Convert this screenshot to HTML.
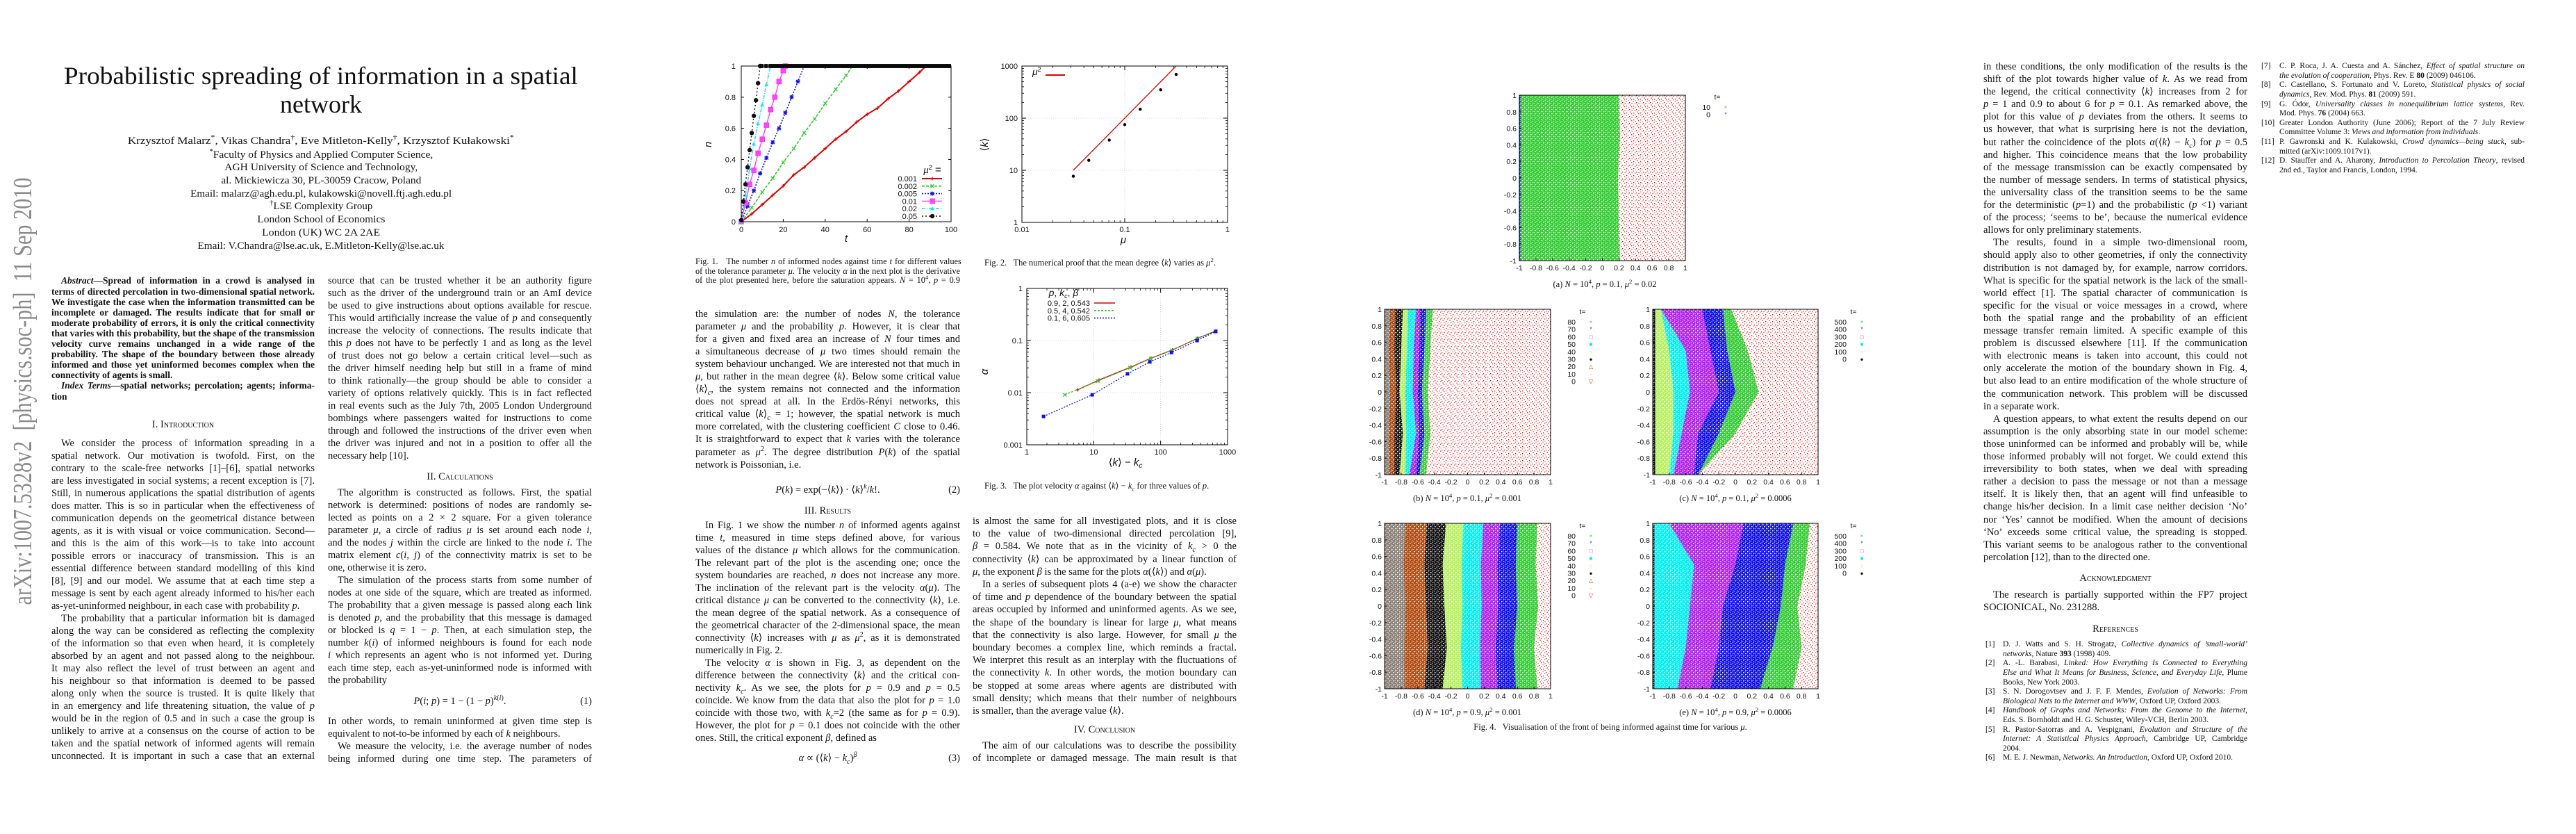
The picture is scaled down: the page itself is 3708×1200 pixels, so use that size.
<!DOCTYPE html>
<html><head><meta charset="utf-8"><title>Probabilistic spreading of information in a spatial network</title>
<style>
html,body{margin:0;padding:0;background:#fff;}
#page{position:relative;width:3708px;height:1200px;overflow:hidden;background:#fff;font-family:"Liberation Serif",serif;color:#111;}
.ln{position:absolute;white-space:nowrap;overflow:visible;}
.ln sup{font-size:70%;vertical-align:super;line-height:0;}
.ln sub{font-size:70%;vertical-align:sub;line-height:0;}
.sc{font-variant:small-caps;}
#charts{position:absolute;left:0;top:0;}
svg text{font-family:"Liberation Sans",sans-serif;}
</style></head>
<body>
<div id="page">
<svg id="charts" width="3708" height="1200" viewBox="0 0 3708 1200">
<defs>
<pattern id="pat-red" width="10" height="10" patternUnits="userSpaceOnUse">
<rect x="1" y="2" width="1.3" height="1.3" fill="#f00"/><rect x="5" y="7" width="1.3" height="1.3" fill="#f00"/>
<rect x="8" y="3" width="1.3" height="1.3" fill="#f22"/><rect x="3" y="8.5" width="1.3" height="1.3" fill="#f33"/>
<rect x="6.5" y="0.5" width="1.3" height="1.3" fill="#f00"/><rect x="0.5" y="5.5" width="1.3" height="1.3" fill="#f44"/>
<rect x="3.5" y="4" width="1.2" height="1.2" fill="#f55"/><rect x="8.5" y="8" width="1.2" height="1.2" fill="#f00"/>
</pattern>
</defs>
</svg>
</div>
<script>
// ---------------- chart data ----------------
const fig1Labels = ['0.001','0.002','0.005','0.01','0.02','0.05'];
const fig1T_a = [0,5,10,15,20,25,30,35,40,45,50,55,60,65,70,75,80,85,88,100];
const fig1N_a = [0,0.05,0.11,0.17,0.23,0.3,0.35,0.41,0.47,0.53,0.58,0.64,0.69,0.73,0.79,0.84,0.9,0.96,1,1];
const fig1T_b = [0,5,10,15,20,25,30,35,40,45,50,53,100];
const fig1N_b = [0,0.09,0.19,0.28,0.38,0.47,0.57,0.66,0.76,0.85,0.94,1,1];
const fig1T_c = [0,3,6,9,12,15,18,21,24,27,30,100];
const fig1N_c = [0,0.1,0.2,0.31,0.41,0.51,0.6,0.7,0.8,0.9,1,1];
const fig1T_d = [0,2,4,6,8,10,12,14,16,18,20,21,100];
const fig1N_d = [0,0.12,0.24,0.33,0.44,0.53,0.62,0.72,0.8,0.9,0.97,1,1];
const fig1T_e = [0,2,4,6,8,10,12,14,100];
const fig1N_e = [0,0.17,0.34,0.5,0.63,0.75,0.88,1,1];
const fig1T_f = [0,1,2,3,4,5,6,7,8,9,100];
const fig1N_f = [0.01,0.13,0.24,0.35,0.46,0.57,0.68,0.78,0.89,1,1];
const fig1XTicks = [0,20,40,60,80,100];
const fig1YTicks = [0,0.2,0.4,0.6,0.8,1];

const fig2Mu = [0.0316,0.0447,0.0707,0.1,0.1414,0.2236,0.3162];
const fig2K = [7.7,15.5,38,75,148,350,690];
const fig2FitMu = [0.0316,0.3162];
const fig2FitK = [10,1000];
const fig2XTicks = [0.01,0.1,1];
const fig2YTicks = [1,10,100,1000];

const fig3Labels = ['0.9, 2, 0.543','0.5, 4, 0.542','0.1, 6, 0.605'];
const fig3X_09 = [5.7,12,36,72,150,355,665];
const fig3Y_09 = [0.0113,0.0175,0.031,0.046,0.066,0.11,0.153];
const fig3X_05 = [3.7,11.5,35,71,148,355,665];
const fig3Y_05 = [0.0091,0.0167,0.030,0.045,0.065,0.11,0.153];
const fig3X_01 = [1.78,9.5,32,69,145,350,665];
const fig3Y_01 = [0.0035,0.0091,0.023,0.039,0.059,0.1,0.149];
const fig3XTicks = [1,10,100,1000];
const fig3YTicks = [0.001,0.01,0.1,1];

// Fig.4 front positions (x in [-1,1]) sampled at y = 1, 0.5, 0, -0.5, -1
const fig4Levels = [1,0.5,0,-0.5,-1];
const fig4aColors = ['green','blue'];
const fig4aFronts = [[0.2,0.21,0.19,0.2,0.21],[-0.985,-0.985,-0.985,-0.985,-0.985]];
const fig4bColors = ['green','blue','magenta','cyan','yellow','black','brown','gray'];
const fig4bFronts = [[-0.42,-0.45,-0.48,-0.45,-0.5],[-0.5,-0.52,-0.55,-0.52,-0.58],[-0.57,-0.58,-0.6,-0.58,-0.62],[-0.62,-0.65,-0.66,-0.62,-0.7],[-0.72,-0.73,-0.75,-0.74,-0.75],[-0.78,-0.8,-0.82,-0.78,-0.82],[-0.87,-0.88,-0.86,-0.88,-0.88],[-0.93,-0.95,-0.93,-0.95,-0.94]];
const fig4cColors = ['green','blue','magenta','cyan','yellow','black'];
const fig4cFronts = [[-0.05,0.15,0.28,0.0,-0.45],[-0.15,-0.1,0.0,-0.2,-0.45],[-0.4,-0.3,-0.2,-0.45,-0.5],[-0.9,-0.6,-0.55,-0.65,-0.75],[-0.9,-0.8,-0.75,-0.75,-0.8],[-0.97,-0.97,-0.97,-0.97,-0.97]];
const fig4dColors = ['green','blue','magenta','cyan','yellow','black','brown','gray'];
const fig4dFronts = [[0.84,0.82,0.85,0.8,0.84],[0.6,0.58,0.6,0.56,0.58],[0.39,0.36,0.37,0.34,0.36],[0.19,0.16,0.17,0.15,0.16],[-0.05,-0.07,-0.06,-0.08,-0.06],[-0.26,-0.3,-0.28,-0.25,-0.3],[-0.49,-0.52,-0.5,-0.48,-0.52],[-0.75,-0.77,-0.75,-0.76,-0.76]];
const fig4eColors = ['green','blue','magenta','cyan','black'];
const fig4eFronts = [[0.9,0.85,0.75,0.8,0.7],[0.7,0.6,0.55,0.45,0.3],[0.1,0.0,-0.15,-0.2,-0.3],[-0.8,-0.5,-0.55,-0.6,-0.7],[-0.98,-0.98,-0.98,-0.98,-0.98]];
const fig4TicksLabels = ['-1','-0.8','-0.6','-0.4','-0.2','0','0.2','0.4','0.6','0.8','1'];
const fig4LegendShort = ['10','0'];
const fig4LegendB = ['80','70','60','50','40','30','20','10','0'];
const fig4LegendC = ['500','400','300','200','100','0'];

// ---------------- helpers ----------------
const NS='http://www.w3.org/2000/svg';
const svg=document.getElementById('charts');
const page=document.getElementById('page');
function mk(tag,attrs,parent){const e=document.createElementNS(NS,tag);for(const k in attrs)e.setAttribute(k,attrs[k]);(parent||svg).appendChild(e);return e;}
function txt(x,y,s,size,anchor,parent,extra){const t=mk('text',{x:x,y:y,'font-size':size,'text-anchor':anchor||'middle',fill:'#111'},parent);if(extra)for(const k in extra)t.setAttribute(k,extra[k]);t.innerHTML=s;return t;}

const colorMap={green:'#33cc33',blue:'#1010ee',magenta:'#b020f0',cyan:'#00f0f0',yellow:'#b8f060',black:'#111111',brown:'#b04a10',gray:'#8a8078'};
const defs=svg.querySelector('defs');
for(const c in colorMap){
  const p=mk('pattern',{id:'pat-'+c,width:6,height:6,patternUnits:'userSpaceOnUse'},defs);
  mk('rect',{x:0,y:0,width:6,height:6,fill:colorMap[c]},p);
  mk('rect',{x:1,y:1,width:1.5,height:1.5,fill:'#fff'},p);
  mk('rect',{x:4,y:3.6,width:1.3,height:1.3,fill:'#fff'},p);
  mk('rect',{x:0.2,y:4.3,width:1.1,height:1.1,fill:'#fff'},p);
  mk('rect',{x:3.6,y:0.2,width:1.1,height:1.1,fill:'#fff'},p);
}

// ---------------- text ----------------
function makeLine(x,w,y,lh,fs,s,style){
  let indent=0,last=false,center=false;
  if(s[0]==='^'){indent=14;s=s.slice(1);}
  if(s[0]==='#'){center=true;s=s.slice(1);}
  if(s.endsWith('$')){last=true;s=s.slice(0,-1);}
  const d=document.createElement('div');
  d.className='ln';
  
  
  d.style.left=(x+indent)+'px';d.style.top=(y-lh/2)+'px';d.style.width=(w-indent)+'px';
  d.style.height=lh+'px';d.style.lineHeight=lh+'px';d.style.fontSize=fs+'px';
  if(style)Object.assign(d.style,style);
  if(center)d.style.textAlign='center';
  const sp=document.createElement('span');sp.innerHTML=s;d.appendChild(sp);page.appendChild(d);
  const avail=w-indent;const sw=sp.getBoundingClientRect().width;
  if(sw>avail){sp.style.display='inline-block';sp.style.transform='scaleX('+(avail/sw)+')';sp.style.transformOrigin='0 50%';d.style.textAlign='left';}
  else if(!last&&!center){const n=(sp.textContent.match(/ /g)||[]).length;if(n)sp.style.wordSpacing=((avail-sw)/n)+'px';}
  return d;
}
function block(x,w,y0,lh,fs,lines,style){lines.forEach((s,i)=>{if(s!==null)makeLine(x,w,y0+i*lh,lh,fs,s,style);});}
function eq(x,w,y,fs,html,num){makeLine(x,w,y,18,fs,'#'+html);const d=makeLine(x,w,y,18,fs,num+'$');d.style.textAlign='right';}
function centerLine(cx,y,fs,html,target,style){
  const d=document.createElement('div');d.className='ln';
  
  
  d.style.left=(cx-700)+'px';d.style.width='1400px';d.style.top=(y-fs*0.7)+'px';d.style.lineHeight=(fs*1.4)+'px';d.style.fontSize=fs+'px';d.style.textAlign='center';
  if(style)Object.assign(d.style,style);
  const sp=document.createElement('span');sp.innerHTML=html;sp.style.display='inline-block';d.appendChild(sp);page.appendChild(d);
  if(target){const sw=sp.getBoundingClientRect().width;sp.style.transform='scaleX('+(target/sw)+')';}
  return d;
}

// sidebar
(function(){
  const d=document.createElement('div');
  
  
  d.style.cssText='position:absolute;left:33px;top:563px;white-space:nowrap;font-size:38px;color:#8a8a8a;font-family:"Liberation Serif",serif;';
  d.innerHTML='arXiv:1007.5328v2&nbsp; [physics.soc-ph]&nbsp; 11 Sep 2010';
  page.appendChild(d);
  const w=d.getBoundingClientRect().width;
  d.style.transform='translate(-50%,-50%) rotate(-90deg) scaleX('+(615/w)+')';
})();

// title + authors
centerLine(462,109,36,'Probabilistic spreading of information in a spatial',740);
centerLine(462,150,36,'network');
const authorLines=[[203,'Krzysztof Malarz<sup>*</sup>, Vikas Chandra<sup>†</sup>, Eve Mitleton-Kelly<sup>†</sup>, Krzysztof Kułakowski<sup>*</sup>',556],
[223,'<sup>*</sup>Faculty of Physics and Applied Computer Science,',322],[241,'AGH University of Science and Technology,',278],
[260,'al. Mickiewicza 30, PL-30059 Cracow, Poland',288],[279,'Email: malarz@agh.edu.pl, kulakowski@novell.ftj.agh.edu.pl',376],
[297,'<sup>†</sup>LSE Complexity Group',148],[316,'London School of Economics',184],[335,'London (UK) WC 2A 2AE',170],
[354,'Email: V.Chandra@lse.ac.uk, E.Mitleton-Kelly@lse.ac.uk',355]];
authorLines.forEach(a=>centerLine(462,a[0],15,a[1],a[2]));

// page 1 column 1
block(74,379,404,15.1,13.5,[
'^<i>Abstract</i>—Spread of information in a crowd is analysed in',
'terms of directed percolation in two-dimensional spatial network.',
'We investigate the case when the information transmitted can be',
'incomplete or damaged. The results indicate that for small or',
'moderate probability of errors, it is only the critical connectivity',
'that varies with this probability, but the shape of the transmission',
'velocity curve remains unchanged in a wide range of the',
'probability. The shape of the boundary between those already',
'informed and those yet uninformed becomes complex when the',
'connectivity of agents is small.$',
'^<i>Index Terms</i>—spatial networks; percolation; agents; informa-',
'tion$'],{fontWeight:'bold'});
makeLine(74,379,611,18,14.5,'#I. <span class="sc">Introduction</span>');
block(74,379,638,18,14.5,[
'^We consider the process of information spreading in a',
'spatial network. Our motivation is twofold. First, on the',
'contrary to the scale-free networks [1]–[6], spatial networks',
'are less investigated in social systems; a recent exception is [7].',
'Still, in numerous applications the spatial distribution of agents',
'does matter. This is so in particular when the effectiveness of',
'communication depends on the geometrical distance between',
'agents, as it is with visual or voice communication. Second—',
'and this is the aim of this work—is to take into account',
'possible errors or inaccuracy of transmission. This is an',
'essential difference between standard modelling of this kind',
'[8], [9] and our model. We assume that at each time step a',
'message is sent by each agent already informed to his/her each',
'as-yet-uninformed neighbour, in each case with probability <i>p</i>.$',
'^The probability that a particular information bit is damaged',
'along the way can be considered as reflecting the complexity',
'of the information so that even when heard, it is completely',
'absorbed by an agent and not passed along to the neighbour.',
'It may also reflect the level of trust between an agent and',
'his neighbour so that information is deemed to be passed',
'along only when the source is trusted. It is quite likely that',
'in an emergency and life threatening situation, the value of <i>p</i>',
'would be in the region of 0.5 and in such a case the group is',
'unlikely to arrive at a consensus on the course of action to be',
'taken and the spatial network of informed agents will remain',
'unconnected. It is important in such a case that an external']);

// page 1 column 2
block(472,380,404,18,14.5,[
'source that can be trusted whether it be an authority figure',
'such as the driver of the underground train or an AmI device',
'be used to give instructions about options available for rescue.',
'This would artificially increase the value of <i>p</i> and consequently',
'increase the velocity of connections. The results indicate that',
'this <i>p</i> does not have to be perfectly 1 and as long as the level',
'of trust does not go below a certain critical level—such as',
'the driver himself needing help but still in a frame of mind',
'to think rationally—the group should be able to consider a',
'variety of options relatively quickly. This is in fact reflected',
'in real events such as the July 7th, 2005 London Underground',
'bombings where passengers waited for instructions to come',
'through and followed the instructions of the driver even when',
'the driver was injured and not in a position to offer all the',
'necessary help [10].$']);
makeLine(472,380,686,18,14.5,'#II. <span class="sc">Calculations</span>');
block(472,380,709,18,14.5,[
'^The algorithm is constructed as follows. First, the spatial',
'network is determined: positions of nodes are randomly se-',
'lected as points on a 2 × 2 square. For a given tolerance',
'parameter <i>μ</i>, a circle of radius <i>μ</i> is set around each node <i>i</i>,',
'and the nodes <i>j</i> within the circle are linked to the node <i>i</i>. The',
'matrix element <i>c</i>(<i>i, j</i>) of the connectivity matrix is set to be',
'one, otherwise it is zero.$',
'^The simulation of the process starts from some number of',
'nodes at one side of the square, which are treated as informed.',
'The probability that a given message is passed along each link',
'is denoted <i>p</i>, and the probability that this message is damaged',
'or blocked is <i>q</i> = 1 − <i>p</i>. Then, at each simulation step, the',
'number <i>k</i>(<i>i</i>) of informed neighbours is found for each node',
'<i>i</i> which represents an agent who is not informed yet. During',
'each time step, each as-yet-uninformed node is informed with',
'the probability$']);
eq(472,380,1009,14.5,'<i>P</i>(<i>i</i>; <i>p</i>) = 1 − (1 − <i>p</i>)<sup><i>k</i>(<i>i</i>)</sup>.','(1)');
block(472,380,1038,18,14.5,[
'In other words, to remain uninformed at given time step is',
'equivalent to not-to-be informed by each of <i>k</i> neighbours.$',
'^We measure the velocity, i.e. the average number of nodes',
'being informed during one time step. The parameters of']);

// page 2 column 3
block(1001,381,377,13.6,12.3,[
'Fig. 1.&nbsp;&nbsp; The number <i>n</i> of informed nodes against time <i>t</i> for different values',
'of the tolerance parameter <i>μ</i>. The velocity <i>α</i> in the next plot is the derivative',
'of the plot presented here, before the saturation appears. <i>N</i> = 10<sup>4</sup>, <i>p</i> = 0.9']);
block(1001,381,452,18.05,14.5,[
'the simulation are: the number of nodes <i>N</i>, the tolerance',
'parameter <i>μ</i> and the probability <i>p</i>. However, it is clear that',
'for a given and fixed area an increase of <i>N</i> four times and',
'a simultaneous decrease of <i>μ</i> two times should remain the',
'system behaviour unchanged. We are interested not that much in',
'<i>μ</i>, but rather in the mean degree ⟨<i>k</i>⟩. Below some critical value',
'⟨<i>k</i>⟩<sub><i>c</i></sub>, the system remains not connected and the information',
'does not spread at all. In the Erdös-Rényi networks, this',
'critical value ⟨<i>k</i>⟩<sub><i>c</i></sub> = 1; however, the spatial network is much',
'more correlated, with the clustering coefficient <i>C</i> close to 0.46.',
'It is straightforward to expect that <i>k</i> varies with the tolerance',
'parameter as <i>μ</i><sup>2</sup>. The degree distribution <i>P</i>(<i>k</i>) of the spatial',
'network is Poissonian, i.e.$']);
eq(1001,381,705,14.5,'<i>P</i>(<i>k</i>) = exp(−⟨<i>k</i>⟩) · ⟨<i>k</i>⟩<sup><i>k</i></sup>/<i>k</i>!.','(2)');
makeLine(1001,381,735,18,14.5,'#III. <span class="sc">Results</span>');
block(1001,381,756,18,14.5,[
'^In Fig. 1 we show the number <i>n</i> of informed agents against',
'time <i>t</i>, measured in time steps defined above, for various',
'values of the distance <i>μ</i> which allows for the communication.',
'The relevant part of the plot is the ascending one; once the',
'system boundaries are reached, <i>n</i> does not increase any more.',
'The inclination of the relevant part is the velocity <i>α</i>(<i>μ</i>). The',
'critical distance <i>μ</i> can be converted to the connectivity ⟨<i>k</i>⟩, i.e.',
'the mean degree of the spatial network. As a consequence of',
'the geometrical character of the 2-dimensional space, the mean',
'connectivity ⟨<i>k</i>⟩ increases with <i>μ</i> as <i>μ</i><sup>2</sup>, as it is demonstrated',
'numerically in Fig. 2.$',
'^The velocity <i>α</i> is shown in Fig. 3, as dependent on the',
'difference between the connectivity ⟨<i>k</i>⟩ and the critical con-',
'nectivity <i>k<sub>c</sub></i>. As we see, the plots for <i>p</i> = 0.9 and <i>p</i> = 0.5',
'coincide. We know from the data that also the plot for <i>p</i> = 1.0',
'coincide with those two, with <i>k<sub>c</sub></i>=2 (the same as for <i>p</i> = 0.9).',
'However, the plot for <i>p</i> = 0.1 does not coincide with the other',
'ones. Still, the critical exponent <i>β</i>, defined as$']);
eq(1001,381,1091,14.5,'<i>α</i> ∝ (⟨<i>k</i>⟩ − <i>k<sub>c</sub></i>)<sup><i>β</i></sup>','(3)');

// page 2 column 4
makeLine(1417,363,378,14,12.5,'Fig. 2.&nbsp;&nbsp; The numerical proof that the mean degree ⟨<i>k</i>⟩ varies as <i>μ</i><sup>2</sup>.$');
makeLine(1417,363,699,14,12.5,'Fig. 3.&nbsp;&nbsp; The plot velocity <i>α</i> against ⟨<i>k</i>⟩ − <i>k<sub>c</sub></i> for three values of <i>p</i>.$');
block(1400,380,750,18.2,14.5,[
'is almost the same for all investigated plots, and it is close',
'to the value of two-dimensional directed percolation [9],',
'<i>β</i> = 0.584. We note that as in the vicinity of <i>k<sub>c</sub></i> &gt; 0 the',
'connectivity ⟨<i>k</i>⟩ can be approximated by a linear function of',
'<i>μ</i>, the exponent <i>β</i> is the same for the plots <i>α</i>(⟨<i>k</i>⟩) and <i>α</i>(<i>μ</i>).$',
'^In a series of subsequent plots 4 (a-e) we show the character',
'of time and <i>p</i> dependence of the boundary between the spatial',
'areas occupied by informed and uninformed agents. As we see,',
'the shape of the boundary is linear for large <i>μ</i>, what means',
'that the connectivity is also large. However, for small <i>μ</i> the',
'boundary becomes a complex line, which reminds a fractal.',
'We interpret this result as an interplay with the fluctuations of',
'the connectivity <i>k</i>. In other words, the motion boundary can',
'be stopped at some areas where agents are distributed with',
'small density; which means that their number of neighbours',
'is smaller, than the average value ⟨<i>k</i>⟩.$']);
makeLine(1400,380,1050,18,14.5,'#IV. <span class="sc">Conclusion</span>');
block(1400,380,1073,18.5,14.5,[
'^The aim of our calculations was to describe the possibility',
'of incomplete or damaged message. The main result is that']);

// page 3 captions
centerLine(2310,410,12.5,'(a) <i>N</i> = 10<sup>4</sup>, <i>p</i> = 0.1, <i>μ</i><sup>2</sup> = 0.02');
centerLine(2112,718,12.5,'(b) <i>N</i> = 10<sup>4</sup>, <i>p</i> = 0.1, <i>μ</i><sup>2</sup> = 0.001');
centerLine(2498,718,12.5,'(c) <i>N</i> = 10<sup>4</sup>, <i>p</i> = 0.1, <i>μ</i><sup>2</sup> = 0.0006');
centerLine(2112,1026,12.5,'(d) <i>N</i> = 10<sup>4</sup>, <i>p</i> = 0.9, <i>μ</i><sup>2</sup> = 0.001');
centerLine(2498,1026,12.5,'(e) <i>N</i> = 10<sup>4</sup>, <i>p</i> = 0.9, <i>μ</i><sup>2</sup> = 0.0006');
centerLine(2318,1047,12.5,'Fig. 4.&nbsp;&nbsp; Visualisation of the front of being informed against time for various <i>μ</i>.');

// page 4 column
block(2855,380,96,18.1,14.5,[
'in these conditions, the only modification of the results is the',
'shift of the plot towards higher value of <i>k</i>. As we read from',
'the legend, the critical connectivity ⟨<i>k</i>⟩ increases from 2 for',
'<i>p</i> = 1 and 0.9 to about 6 for <i>p</i> = 0.1. As remarked above, the',
'plot for this value of <i>p</i> deviates from the others. It seems to',
'us however, that what is surprising here is not the deviation,',
'but rather the coincidence of the plots <i>α</i>(⟨<i>k</i>⟩ − <i>k<sub>c</sub></i>) for <i>p</i> = 0.5',
'and higher. This coincidence means that the low probability',
'of the message transmission can be exactly compensated by',
'the number of message senders. In terms of statistical physics,',
'the universality class of the transition seems to be the same',
'for the deterministic (<i>p</i>=1) and the probabilistic (<i>p</i> &lt;1) variant',
'of the process; ‘seems to be’, because the numerical evidence',
'allows for only preliminary statements.$',
'^The results, found in a simple two-dimensional room,',
'should apply also to other geometries, if only the connectivity',
'distribution is not damaged by, for example, narrow corridors.',
'What is specific for the spatial network is the lack of the small-',
'world effect [1]. The spatial character of communication is',
'specific for the visual or voice messages in a crowd, where',
'both the spatial range and the probability of an efficient',
'message transfer remain limited. A specific example of this',
'problem is discussed elsewhere [11]. If the communication',
'with electronic means is taken into account, this could not',
'only accelerate the motion of the boundary shown in Fig. 4,',
'but also lead to an entire modification of the whole structure of',
'the communication network. This problem will be discussed',
'in a separate work.$',
'^A question appears, to what extent the results depend on our',
'assumption is the only absorbing state in our model scheme:',
'those uninformed can be informed and probably will be, while',
'those informed probably will not forget. We could extend this',
'irreversibility to both states, when we deal with spreading',
'rather a decision to pass the message or not than a message',
'itself. It is likely then, that an agent will find unfeasible to',
'change his/her decision. In a limit case neither decision ‘No’',
'nor ‘Yes’ cannot be modified. When the amount of decisions',
'‘No’ exceeds some critical value, the spreading is stopped.',
'This variant seems to be analogous rather to the conventional',
'percolation [12], than to the directed one.$']);
makeLine(2855,380,832,18,14.5,'#<span class="sc">Acknowledgment</span>');
block(2855,380,856,18.5,14.5,['^The research is partially supported within the FP7 project','SOCIONICAL, No. 231288.$']);
makeLine(2855,380,905,18,14.5,'#<span class="sc">References</span>');
function refs(nx,tx,w,y0,items){let i=0;items.forEach(r=>{makeLine(nx,30,y0+i*13.6,13.6,11.5,r[0]+'$');r.slice(1).forEach(l=>{makeLine(tx,w,y0+i*13.6,13.6,11.5,l);i++;});});}
refs(2858,2883,352,928,[
['[1]','D. J. Watts and S. H. Strogatz, <i>Collective dynamics of ’small-world’</i>','<i>networks</i>, Nature <b>393</b> (1998) 409.$'],
['[2]','A. -L. Barabasi, <i>Linked: How Everything Is Connected to Everything</i>','<i>Else and What It Means for Business, Science, and Everyday Life</i>, Plume','Books, New York 2003.$'],
['[3]','S. N. Dorogovtsev and J. F. F. Mendes, <i>Evolution of Networks: From</i>','<i>Biological Nets to the Internet and WWW</i>, Oxford UP, Oxford 2003.$'],
['[4]','<i>Handbook of Graphs and Networks: From the Genome to the Internet</i>,','Eds. S. Bornholdt and H. G. Schuster, Wiley-VCH, Berlin 2003.$'],
['[5]','R. Pastor-Satorras and A. Vespignani, <i>Evolution and Structure of the</i>','<i>Internet: A Statistical Physics Approach</i>, Cambridge UP, Cambridge','2004.$'],
['[6]','M. E. J. Newman, <i>Networks. An Introduction</i>, Oxford UP, Oxford 2010.$']]);
refs(3255,3281,353,96,[
['[7]','C. P. Roca, J. A. Cuesta and A. Sánchez, <i>Effect of spatial structure on</i>','<i>the evolution of cooperation</i>, Phys. Rev. E <b>80</b> (2009) 046106.$'],
['[8]','C. Castellano, S. Fortunato and V. Loreto, <i>Statistical physics of social</i>','<i>dynamics</i>, Rev. Mod. Phys. <b>81</b> (2009) 591.$'],
['[9]','G. Ódor, <i>Universality classes in nonequilibrium lattice systems</i>, Rev.','Mod. Phys. <b>76</b> (2004) 663.$'],
['[10]','Greater London Authority (June 2006); Report of the 7 July Review','Committee Volume 3: <i>Views and information from individuals</i>.$'],
['[11]','P. Gawronski and K. Kulakowski, <i>Crowd dynamics—being stuck</i>, sub-','mitted (arXiv:1009.1017v1).$'],
['[12]','D. Stauffer and A. Aharony, <i>Introduction to Percolation Theory</i>, revised','2nd ed., Taylor and Francis, London, 1994.$']]);

// ---------------- Figure 1 ----------------
const f1=mk('g',{});


const X1={l:1067,r:1369,t:95,b:319};
const x1=t=>X1.l+t/100*(X1.r-X1.l);
const y1=n=>X1.b-n*(X1.b-X1.t);
fig1XTicks.forEach(v=>{mk('line',{x1:x1(v),y1:X1.b,x2:x1(v),y2:X1.b-4,stroke:'#000','stroke-width':1},f1);mk('line',{x1:x1(v),y1:X1.t,x2:x1(v),y2:X1.t+4,stroke:'#000'},f1);
  const t=txt(x1(v),X1.b+15,String(v),11,'middle',f1);});
fig1YTicks.forEach(v=>{mk('line',{x1:X1.l,y1:y1(v),x2:X1.l+4,y2:y1(v),stroke:'#000'},f1);mk('line',{x1:X1.r,y1:y1(v),x2:X1.r-4,y2:y1(v),stroke:'#000'},f1);
  const t=txt(X1.l-8,y1(v)+4,String(v),11,'end',f1);});
const f1yt=txt(1024,208,'n',15,'middle',f1,{'font-family':'Liberation Serif','font-style':'italic',transform:'rotate(-90 1024 208)'});

const f1xt=txt(1218,348,'t',15,'middle',f1,{'font-family':'Liberation Serif','font-style':'italic'});

function marker(g,type,x,y,c){
  if(type==='plus'){mk('path',{d:`M${x-2.5},${y}h5M${x},${y-2.5}v5`,stroke:c,'stroke-width':1.2},g);}
  else if(type==='x'){mk('path',{d:`M${x-2.5},${y-2.5}l5,5M${x-2.5},${y+2.5}l5,-5`,stroke:c,'stroke-width':1.2},g);}
  else if(type==='star'){mk('path',{d:`M${x-2.5},${y-2.5}l5,5M${x-2.5},${y+2.5}l5,-5M${x-3},${y}h6M${x},${y-3}v6`,stroke:c,'stroke-width':1.3},g);}
  else if(type==='sq'){mk('rect',{x:x-3.3,y:y-3.3,width:6.6,height:6.6,fill:'#ff44ff',stroke:c,'stroke-width':1},g);}
  else if(type==='tri'){mk('path',{d:`M${x},${y-3.2}l3,5.4h-6z`,fill:c},g);}
  else if(type==='dot'){mk('circle',{cx:x,cy:y,r:3.2,fill:c},g);}
}
const fig1Series=[[fig1T_a,fig1N_a,'#e00000','none','plus',2],[fig1T_b,fig1N_b,'#22cc22','4,2','x',1.6],[fig1T_c,fig1N_c,'#1010ee','2,2','star',1.6],[fig1T_d,fig1N_d,'#ff30ff','none','sq',1.3],[fig1T_e,fig1N_e,'#22e0f0','5,2,1,2','tri',1.6],[fig1T_f,fig1N_f,'#111','2,3','dot',1.4]];
fig1Series.forEach((s,si)=>{
  const g=mk('g',{},f1);
  
  
  const pts=s[0].map((t,i)=>x1(t)+','+y1(s[1][i])).join(' ');
  mk('polyline',{points:pts,fill:'none',stroke:s[2],'stroke-width':s[5],'stroke-dasharray':s[3]},g);
  s[0].forEach((t,i)=>{if(i>0&&s[1][i]>=1&&s[1][i-1]>=1)return;marker(g,s[4],x1(t),y1(s[1][i]),s[2]);});
});
fig1Series.forEach(s=>{for(let i=1;i<s[0].length;i++){if(s[1][i]>=1&&s[1][i-1]>=1){const l=mk('line',{x1:x1(s[0][i-1]),y1:y1(1),x2:x1(s[0][i]),y2:y1(1),stroke:'#111','stroke-width':6,'stroke-dasharray':'5,1'},f1);}}});
mk('rect',{x:X1.l,y:X1.t,width:X1.r-X1.l,height:X1.b-X1.t,fill:'none',stroke:'#000','stroke-width':1},f1);
const leg1=mk('g',{},f1);


txt(1342,249,'<tspan font-style="italic" font-family="Liberation Serif">μ</tspan><tspan dy="-5" font-size="9">2</tspan><tspan dy="5"> =</tspan>',15,'middle',leg1,{'font-family':'Liberation Serif'});
fig1Series.forEach((s,i)=>{const y=257+i*10.8;txt(1320,y+4,fig1Labels[i],11,'end',leg1);mk('line',{x1:1327,y1:y,x2:1356,y2:y,stroke:s[2],'stroke-width':s[5],'stroke-dasharray':s[3]},leg1);marker(leg1,s[4],1342,y,s[2]);});

// ---------------- Figure 2 ----------------
const f2=mk('g',{});


const X2={l:1471,r:1767,t:95,b:320};
const x2=v=>X2.l+(Math.log10(v)+2)/2*(X2.r-X2.l);
const y2=v=>X2.b-Math.log10(v)/3*(X2.b-X2.t);
function logAxes(g,X,xf,yf,xt,yt,xlab,ylab){
  xt.forEach((v,i)=>{
    if(i>0&&i<xt.length-1)mk('line',{x1:xf(v),y1:X.t,x2:xf(v),y2:X.b,stroke:'#bbb','stroke-width':0.6,'stroke-dasharray':'1,2'},g);
    mk('line',{x1:xf(v),y1:X.b,x2:xf(v),y2:X.b-6,stroke:'#000'},g);mk('line',{x1:xf(v),y1:X.t,x2:xf(v),y2:X.t+6,stroke:'#000'},g);
    if(i<xt.length-1)for(let m=2;m<10;m++){const xx=xf(v*m);mk('line',{x1:xx,y1:X.b,x2:xx,y2:X.b-3,stroke:'#000','stroke-width':0.8},g);mk('line',{x1:xx,y1:X.t,x2:xx,y2:X.t+3,stroke:'#000','stroke-width':0.8},g);}
    const t=txt(xf(v),X.b+14,xlab[i],11,'middle',g);});
  yt.forEach((v,i)=>{
    if(i>0&&i<yt.length-1)mk('line',{x1:X.l,y1:yf(v),x2:X.r,y2:yf(v),stroke:'#bbb','stroke-width':0.6,'stroke-dasharray':'1,2'},g);
    mk('line',{x1:X.l,y1:yf(v),x2:X.l+6,y2:yf(v),stroke:'#000'},g);mk('line',{x1:X.r,y1:yf(v),x2:X.r-6,y2:yf(v),stroke:'#000'},g);
    if(i<yt.length-1)for(let m=2;m<10;m++){const yy=yf(v*m);mk('line',{x1:X.l,y1:yy,x2:X.l+3,y2:yy,stroke:'#000','stroke-width':0.8},g);mk('line',{x1:X.r,y1:yy,x2:X.r-3,y2:yy,stroke:'#000','stroke-width':0.8},g);}
    const t=txt(X.l-6,yf(v)+4,ylab[i],11,'end',g);});
  mk('rect',{x:X.l,y:X.t,width:X.r-X.l,height:X.b-X.t,fill:'none',stroke:'#000'},g);
}
logAxes(f2,X2,x2,y2,fig2XTicks,fig2YTicks,fig2XTicks.map(String),fig2YTicks.map(String));
const fit2=mk('polyline',{points:fig2FitMu.map((m,i)=>x2(m)+','+y2(fig2FitK[i])).join(' '),fill:'none',stroke:'#e00000','stroke-width':1.3},f2);

fig2Mu.forEach((m,i)=>{const c=mk('circle',{cx:x2(m),cy:y2(fig2K[i]),r:2.2,fill:'#000'},f2);});
txt(1486,108,'<tspan font-style="italic">μ</tspan><tspan dy="-5" font-size="9">2</tspan>',14,'start',f2,{'font-family':'Liberation Serif'});
mk('line',{x1:1505,y1:108,x2:1533,y2:108,stroke:'#e00000','stroke-width':2},f2);
txt(1422,208,'⟨<tspan font-style="italic">k</tspan>⟩',15,'middle',f2,{'font-family':'Liberation Serif',transform:'rotate(-90 1422 208)'});
txt(1617,350,'μ',15,'middle',f2,{'font-family':'Liberation Serif','font-style':'italic'});

// ---------------- Figure 3 ----------------
const f3=mk('g',{});


const X3={l:1478,r:1767,t:415,b:640};
const x3=v=>X3.l+Math.log10(v)/3*(X3.r-X3.l);
const y3=v=>X3.b-(Math.log10(v)+3)/3*(X3.b-X3.t);
logAxes(f3,X3,x3,y3,fig3XTicks,fig3YTicks,fig3XTicks.map(String),fig3YTicks.map(String));
const fig3Series=[[fig3X_09,fig3Y_09,'#e00000','none','plus'],[fig3X_05,fig3Y_05,'#22cc22','3,2','x'],[fig3X_01,fig3Y_01,'#1010ee','2,2','sqb']];
fig3Series.forEach((s,si)=>{
  const g=mk('g',{},f3);
  
  
  mk('polyline',{points:s[0].map((v,i)=>x3(v)+','+y3(s[1][i])).join(' '),fill:'none',stroke:s[2],'stroke-width':1.3,'stroke-dasharray':s[3]},g);
  s[0].forEach((v,i)=>{if(s[4]==='sqb')mk('rect',{x:x3(v)-2.5,y:y3(s[1][i])-2.5,width:5,height:5,fill:s[2]},g);else marker(g,s[4],x3(v),y3(s[1][i]),s[2]);});
});
txt(1531,426,'<tspan font-style="italic">p</tspan>, <tspan font-style="italic">k<tspan font-size="9" dy="3">c</tspan></tspan><tspan dy="-3">, </tspan><tspan font-style="italic">β</tspan>',14,'middle',f3,{'font-family':'Liberation Serif'});
fig3Series.forEach((s,i)=>{const y=436+i*10.8;txt(1569,y+4,fig3Labels[i],11,'end',f3);mk('line',{x1:1575,y1:y,x2:1605,y2:y,stroke:s[2],'stroke-width':1.6,'stroke-dasharray':s[3]},f3);});
txt(1422,535,'α',15,'middle',f3,{'font-family':'Liberation Serif','font-style':'italic',transform:'rotate(-90 1422 535)'});
txt(1620,670,'⟨<tspan font-style="italic">k</tspan>⟩ − <tspan font-style="italic">k</tspan><tspan font-size="10" dy="3" font-style="italic">c</tspan>',15,'middle',f3,{'font-family':'Liberation Serif'});

// ---------------- Figure 4 ----------------
const legendGlyph={green:'×',blue:'*',magenta:'□',cyan:'■',yellow:'○',black:'●',brown:'△',gray:'·',red:'▽'};
function panel(name,X,colors,fronts,legLabels,legColors,legX,legY){
  const g=mk('g',{});
  
  
  const W=X.r-X.l,H=X.b-X.t;
  const px=v=>X.l+(v+1)/2*W, py=v=>X.b-(v+1)/2*H;
  mk('rect',{x:X.l,y:X.t,width:W,height:H,fill:'url(#pat-red)'},g);
  colors.forEach((c,i)=>{
    const f=fronts[i];
    let d='M'+px(-1)+','+py(1);
    fig4Levels.forEach((lv,j)=>{d+=' L'+px(f[j])+','+py(lv);});
    d+=' L'+px(-1)+','+py(-1)+'Z';
    const p=mk('path',{d:d,fill:'url(#pat-'+c+')'},g);
    
  });
  mk('rect',{x:X.l,y:X.t,width:W,height:H,fill:'none',stroke:'#000'},g);
  fig4TicksLabels.forEach(s=>{const v=parseFloat(s);
    mk('line',{x1:px(v),y1:X.b,x2:px(v),y2:X.b-3,stroke:'#000'},g);
    mk('line',{x1:X.l,y1:py(v),x2:X.l+3,y2:py(v),stroke:'#000'},g);
    txt(px(v),X.b+14,s,10.5,'middle',g);
    txt(X.l-4,py(v)+4,s,10.5,'end',g);});
  const lg=mk('g',{},g);
  
  
  txt(legX+10,legY,'t=',10.5,'middle',lg);
  legLabels.forEach((s,i)=>{const y=legY+11+i*10.7;txt(legX,y+4,s,10.5,'end',lg);
    const c=legColors[i];const t=txt(legX+22,y+3,legendGlyph[c],8,'middle',lg);t.setAttribute('fill',c==='red'?'#f00':colorMap[c]);});
}
panel('fig4a-panel',{l:2187,r:2426,t:137,b:375},fig4aColors,fig4aFronts,fig4LegendShort,['green','blue'],2462,143);
panel('fig4b-panel',{l:1993,r:2232,t:445,b:683},fig4bColors,fig4bFronts,fig4LegendB,['green','blue','magenta','cyan','yellow','black','brown','gray','red'],2268,452);
panel('fig4c-panel',{l:2379,r:2617,t:445,b:683},fig4cColors,fig4cFronts,fig4LegendC,['green','blue','magenta','cyan','yellow','black'],2658,452);
panel('fig4d-panel',{l:1993,r:2232,t:753,b:991},fig4dColors,fig4dFronts,fig4LegendB,['green','blue','magenta','cyan','yellow','black','brown','gray','red'],2268,760);
panel('fig4e-panel',{l:2379,r:2617,t:753,b:991},fig4eColors,fig4eFronts,fig4LegendC,['green','blue','magenta','cyan','yellow','black'],2658,760);
</script>
</body></html>
